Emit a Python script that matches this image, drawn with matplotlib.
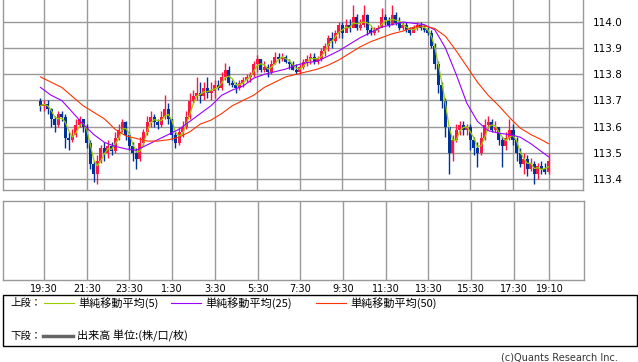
import numpy as np
import pandas as pd
import matplotlib
matplotlib.use("Agg")
import matplotlib.pyplot as plt
from matplotlib.lines import Line2D
from matplotlib.patches import Rectangle

plt.rcParams['font.family'] = ['DejaVu Sans', 'Noto Sans CJK JP']

# 10分足, 19:20 から翌 19:10 まで (分: 19:30 = 0)
t_start = -10
step = 10

closes = [113.68, 113.69, 113.67, 113.63, 113.61, 113.65, 113.64, 113.56, 113.55, 113.57,
          113.61, 113.63, 113.60, 113.54, 113.46, 113.42, 113.47, 113.52, 113.50, 113.53,
          113.51, 113.56, 113.59, 113.62, 113.57, 113.53, 113.50, 113.48, 113.54, 113.58,
          113.62, 113.64, 113.62, 113.61, 113.64, 113.67, 113.63, 113.57, 113.54, 113.58,
          113.60, 113.64, 113.70, 113.72, 113.73, 113.72, 113.75, 113.73, 113.74, 113.76,
          113.75, 113.79, 113.82, 113.77, 113.76, 113.75, 113.77, 113.78, 113.79, 113.80,
          113.84, 113.86, 113.82, 113.83, 113.81, 113.84, 113.87, 113.86, 113.87, 113.85,
          113.84, 113.82, 113.81, 113.83, 113.85, 113.86, 113.87, 113.85, 113.86, 113.89,
          113.91, 113.94, 113.93, 113.96, 113.99, 113.96, 113.99, 113.98, 114.02, 113.98,
          113.99, 114.03, 113.97, 113.96, 113.97, 113.98, 114.02, 114.01, 113.99, 114.03,
          114.00, 113.98, 113.99, 113.97, 113.96, 113.98, 113.99, 113.98, 113.97, 113.96,
          113.91, 113.84, 113.76, 113.70, 113.60, 113.50, 113.55, 113.59, 113.61, 113.59,
          113.60, 113.55, 113.52, 113.50, 113.56, 113.61, 113.62, 113.59, 113.60, 113.55,
          113.53, 113.56, 113.59, 113.55, 113.50, 113.46, 113.48, 113.44, 113.46, 113.42,
          113.45, 113.44, 113.43, 113.47]
highs = [113.71, 113.70, 113.70, 113.67, 113.64, 113.66, 113.66, 113.65, 113.58, 113.59,
         113.63, 113.64, 113.63, 113.61, 113.55, 113.47, 113.49, 113.53, 113.54, 113.55,
         113.54, 113.58, 113.61, 113.63, 113.62, 113.58, 113.54, 113.52, 113.56, 113.59,
         113.64, 113.66, 113.65, 113.63, 113.66, 113.72, 113.69, 113.63, 113.58, 113.60,
         113.62, 113.66, 113.73, 113.74, 113.79, 113.77, 113.77, 113.79, 113.77, 113.78,
         113.78, 113.81, 113.845, 113.83, 113.78, 113.77, 113.78, 113.79, 113.80, 113.81,
         113.85, 113.875, 113.86, 113.85, 113.84, 113.855, 113.885, 113.88, 113.88, 113.875,
         113.86, 113.85, 113.84, 113.84, 113.86, 113.875, 113.88, 113.88, 113.87, 113.90,
         113.92, 113.95, 113.96, 113.97, 114.00, 114.00, 114.01, 114.01, 114.065, 114.03,
         114.01, 114.065, 114.03, 113.98, 113.98, 113.99, 114.055, 114.03, 114.02, 114.065,
         114.04, 114.02, 114.00, 114.00, 113.98, 113.99, 114.00, 114.00, 113.99, 113.98,
         113.97, 113.92, 113.85, 113.77, 113.71, 113.60, 113.57, 113.61, 113.62, 113.62,
         113.61, 113.61, 113.56, 113.54, 113.58, 113.63, 113.64, 113.63, 113.62, 113.60,
         113.56, 113.58, 113.63, 113.61, 113.56, 113.52, 113.50, 113.49, 113.48, 113.47,
         113.46, 113.47, 113.46, 113.50]
lows = [113.66, 113.66, 113.65, 113.60, 113.58, 113.60, 113.62, 113.52, 113.51, 113.54,
        113.56, 113.60, 113.58, 113.52, 113.44, 113.39, 113.38, 113.46, 113.47, 113.48,
        113.49, 113.50, 113.55, 113.58, 113.55, 113.51, 113.47, 113.44, 113.47, 113.53,
        113.57, 113.60, 113.60, 113.59, 113.60, 113.63, 113.61, 113.55, 113.52, 113.53,
        113.56, 113.59, 113.63, 113.69, 113.70, 113.69, 113.70, 113.71, 113.70, 113.71,
        113.74, 113.74, 113.78, 113.76, 113.75, 113.73, 113.74, 113.75, 113.77, 113.77,
        113.79, 113.81, 113.81, 113.81, 113.79, 113.80, 113.84, 113.845, 113.85, 113.845,
        113.82, 113.815, 113.80, 113.80, 113.82, 113.83, 113.84, 113.84, 113.84, 113.85,
        113.87, 113.89, 113.90, 113.92, 113.94, 113.94, 113.96, 113.96, 113.98, 113.97,
        113.97, 113.98, 113.95, 113.95, 113.95, 113.96, 113.98, 113.99, 113.98, 113.99,
        113.99, 113.97, 113.97, 113.96, 113.95, 113.96, 113.97, 113.97, 113.96, 113.95,
        113.90, 113.82, 113.73, 113.67, 113.56, 113.42, 113.47, 113.54, 113.57, 113.57,
        113.57, 113.51, 113.49, 113.445, 113.49, 113.55, 113.59, 113.58, 113.58, 113.53,
        113.445, 113.51, 113.55, 113.53, 113.47, 113.445, 113.42, 113.41, 113.43, 113.38,
        113.40, 113.42, 113.42, 113.42]
first_open = 113.70

# 移動平均(25)(50) 30分おき
ma_t = [-10, 20, 50, 80, 110, 140, 170, 200, 230, 260, 290, 320, 350, 380, 410, 440,
        470, 500, 530, 560, 590, 620, 650, 680, 710, 740, 770, 800, 830, 860, 890, 920,
        950, 980, 1010, 1040, 1070, 1100, 1130, 1160, 1190, 1220, 1250, 1280, 1310, 1340,
        1370, 1400, 1420]
ma25 = [113.75, 113.72, 113.70, 113.655, 113.61, 113.57, 113.54, 113.525, 113.515, 113.51,
        113.53, 113.55, 113.57, 113.59, 113.62, 113.65, 113.68, 113.72, 113.74, 113.755,
        113.785, 113.80, 113.81, 113.82, 113.835, 113.845, 113.85, 113.87, 113.89, 113.915,
        113.94, 113.96, 113.98, 113.99, 114.00, 113.995, 113.99, 113.97, 113.90, 113.80,
        113.69, 113.62, 113.585, 113.575, 113.57, 113.56, 113.535, 113.505, 113.485]
ma50 = [113.79, 113.77, 113.75, 113.715, 113.68, 113.655, 113.63, 113.59, 113.565, 113.555,
        113.545, 113.545, 113.55, 113.56, 113.58, 113.61, 113.625, 113.65, 113.68, 113.70,
        113.72, 113.75, 113.77, 113.79, 113.80, 113.81, 113.82, 113.835, 113.855, 113.88,
        113.905, 113.925, 113.94, 113.955, 113.965, 113.98, 113.985, 113.975, 113.945, 113.89,
        113.83, 113.77, 113.72, 113.68, 113.635, 113.595, 113.57, 113.55, 113.535]

tick_pos = [0, 120, 240, 360, 480, 600, 720, 840, 960, 1080, 1200, 1320, 1420]
tick_labels = ['19:30', '21:30', '23:30', '1:30', '3:30', '5:30', '7:30', '9:30',
               '11:30', '13:30', '15:30', '17:30', '19:10']
y_ticks = [113.4, 113.5, 113.6, 113.7, 113.8, 113.9, 114.0]

up_col = '#ff1744'
dn_col = '#003399'
grid_col = '#999999'

fig = plt.figure(figsize=(6.38, 3.62), dpi=100)
ax = fig.add_axes([3 / 638, 172 / 362, 580 / 638, 190 / 362])
ax2 = fig.add_axes([3 / 638, 82 / 362, 581 / 638, 79 / 362])

t = np.array([t_start + step * i for i in range(len(closes))])
c = np.array(closes)
o = np.array([first_open] + closes[:-1])
h = np.array(highs)
l = np.array(lows)
cols = np.where(c >= o, up_col, dn_col)

ax.vlines(t, l, h, colors=cols, linewidth=1.0, zorder=3)
body = np.maximum(np.abs(c - o), 0.008)
ax.bar(t, body, bottom=np.minimum(o, c) - 0.002, width=8.5, color=cols, linewidth=0, zorder=3)

ma5 = pd.Series(closes).rolling(3, min_periods=1).mean()
ax.plot(t, ma5, color='#99cc00', lw=0.9, zorder=4)
ax.plot(ma_t, ma25, color='#9900ff', lw=0.8, zorder=4)
ax.plot(ma_t, ma50, color='#ff3300', lw=0.8, zorder=4)

xlim = (-115.4, 1517)
for a in (ax, ax2):
    a.set_xlim(*xlim)
    a.set_xticks(tick_pos)
    a.grid(True, axis='x', color=grid_col, lw=1)
    a.set_axisbelow(True)
    for s in a.spines.values():
        s.set_color(grid_col)
        s.set_linewidth(1)
    a.tick_params(length=0, labelsize=7)

ax.set_ylim(113.358, 114.084)
ax.set_yticks(y_ticks)
ax.set_yticklabels([f'{v:.1f}' for v in y_ticks])
ax.yaxis.tick_right()
ax.tick_params(axis='y', pad=7, labelsize=7.5)
ax.grid(True, axis='y', color=grid_col, lw=1)
ax.set_xticklabels([])
ax.spines['top'].set_visible(False)

ax2.set_yticks([])
ax2.set_ylim(0, 1)
ax2.set_xticklabels(tick_labels)
ax2.tick_params(axis='x', pad=3)

# 凡例
fig.patches.append(Rectangle((3 / 638, 16 / 362), 634 / 638, 51 / 362,
                             transform=fig.transFigure, fill=False, ec='black', lw=1))
jp = ['Noto Sans CJK JP', 'DejaVu Sans']
y1 = 1 - 303 / 362
y2 = 1 - 336 / 362
fig.text(10 / 638, y1, '上段：', fontsize=7.5, family=jp, va='center')
fig.text(10 / 638, y2, '下段：', fontsize=7.5, family=jp, va='center')
legend_items = [(44, '#99cc00', '単純移動平均(5)'),
                (171, '#9900ff', '単純移動平均(25)'),
                (316, '#ff3300', '単純移動平均(50)')]
for x0, col, txt in legend_items:
    fig.add_artist(Line2D([x0 / 638, (x0 + 30) / 638], [y1, y1], color=col, lw=0.8,
                          transform=fig.transFigure))
    fig.text((x0 + 34) / 638, y1, txt, fontsize=8, family=jp, va='center')
fig.add_artist(Line2D([43 / 638, 73 / 638], [y2, y2], color='#666666', lw=2.5,
                      transform=fig.transFigure))
fig.text(77 / 638, y2, '出来高 単位:(株/口/枚)', fontsize=8, family=jp, va='center')
fig.text(618 / 638, 1 - 357 / 362, '(c)Quants Research Inc.', fontsize=7,
         color='#333333', ha='right', va='center')

fig.savefig('out.png', dpi=100)
